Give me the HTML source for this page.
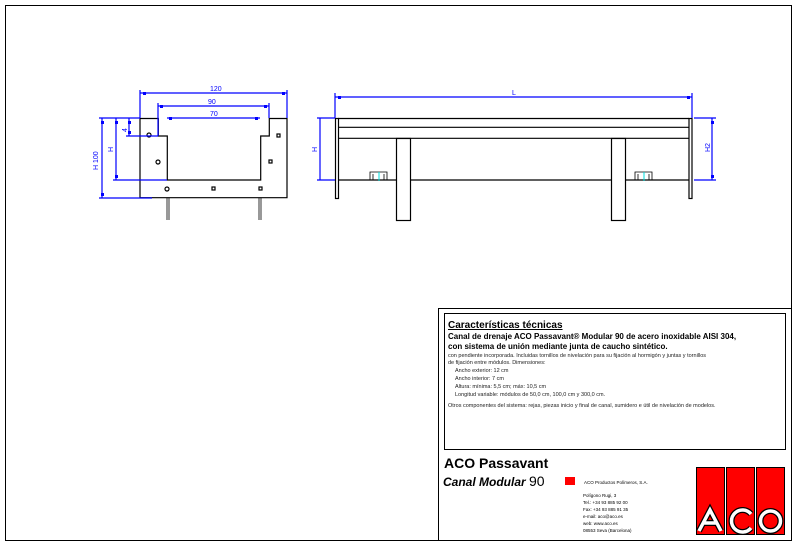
<!DOCTYPE html><html><head><style>body{margin:0;background:#fff}svg text{font-family:"Liberation Sans",sans-serif}</style></head><body>
<svg width="797" height="546" viewBox="0 0 797 546" xmlns="http://www.w3.org/2000/svg">
<rect x="5.5" y="5.5" width="786" height="535" fill="none" stroke="#000"/>
<rect x="438.5" y="308.5" width="353" height="232" fill="none" stroke="#000"/>
<rect x="444.5" y="313.5" width="341" height="136" fill="none" stroke="#000"/>
<text x="448" y="328" font-size="10" font-weight="bold" text-decoration="underline">Características técnicas</text>
<text x="448" y="339" font-size="8" font-weight="bold">Canal de drenaje ACO Passavant® Modular 90 de acero inoxidable AISI 304,</text>
<text x="448" y="349" font-size="8" font-weight="bold">con sistema de unión mediante junta de caucho sintético.</text>
<g font-size="5.5" fill="#222">
<text x="448" y="357">con pendiente incorporada. Incluidas tornillos de nivelación para su fijación al hormigón y juntas y tornillos</text>
<text x="448" y="364">de fijación entre módulos. Dimensiones:</text>
<text x="455" y="372">Ancho exterior: 12 cm</text>
<text x="455" y="380">Ancho interior: 7 cm</text>
<text x="455" y="388">Altura: mínima: 5,5 cm; máx: 10,5 cm</text>
<text x="455" y="396">Longitud variable: módulos de 50,0 cm, 100,0 cm y 300,0 cm.</text>
<text x="448" y="407">Otros componentes del sistema: rejas, piezas inicio y final de canal, sumidero e útil de nivelación de modelos.</text>
</g>
<text x="444" y="468" font-size="14" font-weight="bold">ACO Passavant</text>
<text x="443" y="486" font-size="12" font-weight="bold" font-style="italic">Canal Modular <tspan font-weight="normal" font-style="normal" font-size="14">90</tspan></text>
<rect x="565" y="477" width="10" height="8" fill="#f00"/>
<g font-size="4.5"><text x="584" y="484">ACO Productos Polímeros, S.A.</text>
<text x="583" y="497">Polígono Rugi, 3</text><text x="583" y="504">Tel.: +34 93 885 92 00</text><text x="583" y="511">Fax: +34 93 885 91 35</text><text x="583" y="518">e-mail: aco@aco.es</text><text x="583" y="525">web: www.aco.es</text><text x="583" y="532">08553 Seva (Barcelona)</text></g>
<g fill="#f00" stroke="#000" stroke-width="1"><rect x="696.5" y="467.5" width="28" height="67"/><rect x="726.5" y="467.5" width="28" height="67"/><rect x="756.5" y="467.5" width="28" height="67"/></g>
<g fill="none" stroke="#000" stroke-width="6"><path d="M699 531 L710 510 L721 531 M703 523 H717"/><path d="M751 514 A11 11 0 1 0 751 528"/><ellipse cx="770.5" cy="521" rx="10" ry="10"/></g>
<g fill="none" stroke="#fff" stroke-width="3.5"><path d="M699 531 L710 510 L721 531 M703 523 H717"/><path d="M751 514 A11 11 0 1 0 751 528"/><ellipse cx="770.5" cy="521" rx="10" ry="10"/></g>
<g fill="none" stroke="#000" stroke-width="1.2">
<path d="M140 118.5 H158.3 V136 H167.3 V180 H260.7 V136 H269.3 V118.5 H287 V197.7 H140 Z"/>
<path d="M167 198 V220 M169 198 V220 M259 198 V220 M261 198 V220" stroke-width="0.8"/>
<circle cx="149" cy="135" r="2"/><circle cx="158" cy="162" r="2"/><circle cx="167" cy="189" r="2"/>
<rect x="212" y="187" width="3" height="3"/><rect x="259" y="187" width="3" height="3"/><rect x="269" y="160" width="3" height="3"/><rect x="277" y="134" width="3" height="3"/>
<rect x="335.5" y="118.5" width="3" height="80"/><rect x="689" y="118.5" width="3" height="80"/>
<path d="M338 118.5 H689 M338 127.3 H689 M338 138.3 H689 M338 180 H396 M410 180 H611 M625 180 H689"/>
<rect x="396.5" y="138.5" width="14" height="82"/><rect x="611.5" y="138.5" width="14" height="82"/>
<path d="M370 180 V172 H387 V180 M373 174 V180 M384 174 V180 M635 180 V172 H652 V180 M638 174 V180 M649 174 V180" stroke-width="0.8"/>
</g>
<path d="M379 172 V181 M644 172 V181" stroke="#0dd"/>
<g stroke="#00f" stroke-width="1.2" fill="none">
<path d="M140 93 H287 M158 106 H269 M167 118 H260 M140 90 V118 M287 90 V118 M158 103 V136 M269 103 V118"/>
<path d="M102 118 V198 M116 118 V180 M129 118 V136 M99 118 H140 M99 198 H152 M113 180 H167 M126 136 H158"/>
<path d="M335 97 H692 M335 93 V118 M692 93 V118 M320 118 V180 M317 118 H335 M317 180 H335 M712 118 V180 M694 118 H716 M694 180 H716"/>
</g>
<g fill="#00f"><rect x="143" y="92" width="3" height="3"/><rect x="282" y="92" width="3" height="3"/><rect x="160" y="105" width="3" height="3"/><rect x="264" y="105" width="3" height="3"/><rect x="169" y="117" width="3" height="3"/><rect x="255" y="117" width="3" height="3"/>
<rect x="101" y="121" width="3" height="3"/><rect x="101" y="193" width="3" height="3"/><rect x="115" y="121" width="3" height="3"/><rect x="115" y="175" width="3" height="3"/><rect x="128" y="121" width="3" height="3"/><rect x="128" y="131" width="3" height="3"/>
<rect x="338" y="96" width="3" height="3"/><rect x="687" y="96" width="3" height="3"/><rect x="711" y="121" width="3" height="3"/><rect x="711" y="175" width="3" height="3"/></g>
<g fill="#00f" font-size="7"><text x="210" y="91">120</text><text x="208" y="104">90</text><text x="210" y="116">70</text><text x="512" y="95">L</text>
<text transform="translate(98 170) rotate(-90)">H 100</text><text transform="translate(113 152) rotate(-90)">H</text><text transform="translate(127 132) rotate(-90)">4</text>
<text transform="translate(317 152) rotate(-90)">H</text><text transform="translate(710 152) rotate(-90)">H2</text></g>
</svg></body></html>
